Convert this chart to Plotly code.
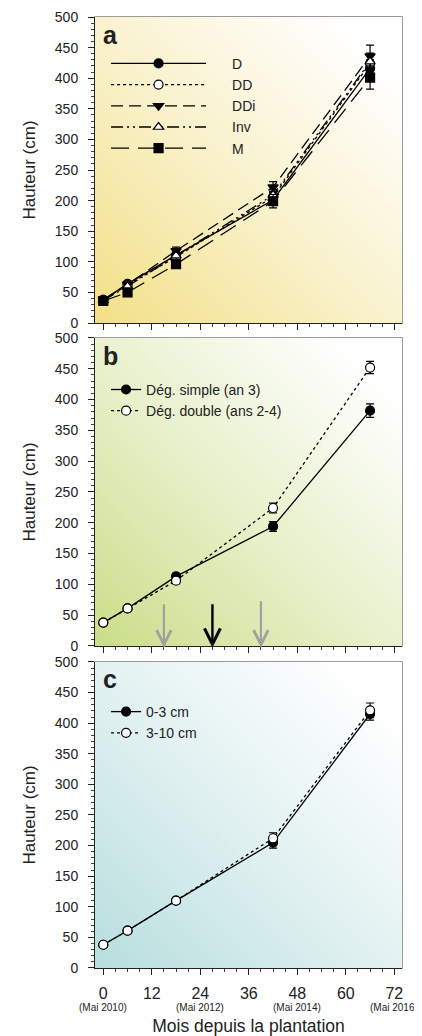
import base64
import plotly.graph_objects as go

# ---------------- data ----------------
months = [0, 6, 18, 42, 66]

# Panel a
a_names = ["D", "DD", "DDi", "Inv", "M"]
a_D = [38, 64, 111, 201, 416]
a_DD = [38, 62, 108, 206, 424]
a_DDi = [38, 63, 118, 222, 436]
a_Inv = [37, 60, 110, 209, 427]
a_M = [36, 50, 96, 199, 401]
a_D_err = [3, 4, 6, 9, 14]
a_DD_err = [3, 4, 6, 9, 14]
a_DDi_err = [3, 4, 6, 9, 18]
a_Inv_err = [3, 4, 6, 9, 14]
a_M_err = [3, 4, 6, 11, 19]

# Panel b
b_names = ["Dég. simple (an 3)", "Dég. double (ans 2-4)"]
b_simple = [38, 61, 113, 194, 382]
b_double = [38, 61, 106, 224, 452]
b_simple_err = [2, 3, 5, 8, 11]
b_double_err = [2, 3, 5, 8, 10]
# treatment arrows (months): gray, black, gray
arrow_x = [15, 27, 39]
arrow_top = [70, 70, 75]
arrow_colors = ["#a0a0a0", "#000000", "#a0a0a0"]

# Panel c
c_names = ["0-3 cm", "3-10 cm"]
c_03 = [38, 61, 110, 205, 415]
c_310 = [38, 61, 110, 212, 421]
c_03_err = [2, 3, 4, 9, 10]
c_310_err = [2, 3, 4, 9, 12]

x_tickvals = [0, 12, 24, 36, 48, 60, 72]
x_ticktext = ["0", "12", "24", "36", "48", "60", "72"]
x_subtext = ["(Mai 2010)", "", "(Mai 2012)", "", "(Mai 2014)", "", "(Mai 2016)"]

FONT = "Liberation Sans, Arial, sans-serif"


def mix(c, t):
    r, g, b = int(c[1:3], 16), int(c[3:5], 16), int(c[5:7], 16)
    r, g, b = [round(v + (255 - v) * t) for v in (r, g, b)]
    return f"#{r:02x}{g:02x}{b:02x}"


def grad_uri(c0):
    svg = (
        "<svg xmlns='http://www.w3.org/2000/svg' width='100' height='100' preserveAspectRatio='none'>"
        "<defs><linearGradient id='g' x1='0' y1='1' x2='1' y2='0'>"
        f"<stop offset='0' stop-color='{c0}'/>"
        f"<stop offset='0.45' stop-color='{mix(c0, 0.55)}'/>"
        "<stop offset='0.9' stop-color='#ffffff'/>"
        "</linearGradient></defs><rect width='100' height='100' fill='url(#g)'/></svg>"
    )
    return "data:image/svg+xml;base64," + base64.b64encode(svg.encode()).decode()


fig = go.Figure()

line_w = 1.3
err_base = dict(type="data", color="black", thickness=1.2, width=4, visible=True)


def add(x, y, err, name, dash, symbol, fill, xa, ya, legend):
    fig.add_trace(go.Scatter(
        x=x, y=y, name=name, mode="lines+markers",
        line=dict(color="black", width=line_w, dash=dash),
        marker=dict(symbol=symbol, size=9, color=fill, line=dict(color="black", width=1.2)),
        error_y=dict(err_base, array=err),
        xaxis=xa, yaxis=ya, legend=legend,
    ))


pad = "\u2002\u2002\u2002"
# panel a (top)
add(months, a_D, a_D_err, pad + a_names[0], "solid", "circle", "black", "x", "y", "legend")
add(months, a_DD, a_DD_err, pad + a_names[1], "dot", "circle", "white", "x", "y", "legend")
add(months, a_DDi, a_DDi_err, pad + a_names[2], "12px,6px", "triangle-down", "black", "x", "y", "legend")
add(months, a_Inv, a_Inv_err, pad + a_names[3], "12px,4px,2px,4px,2px,4px", "triangle-up", "white", "x", "y", "legend")
add(months, a_M, a_M_err, pad + a_names[4], "18px,9px", "square", "black", "x", "y", "legend")

# panel b (middle)
add(months, b_simple, b_simple_err, b_names[0], "solid", "circle", "black", "x2", "y2", "legend2")
add(months, b_double, b_double_err, b_names[1], "dot", "circle", "white", "x2", "y2", "legend2")

# panel c (bottom)
add(months, c_03, c_03_err, c_names[0], "solid", "circle", "black", "x3", "y3", "legend3")
add(months, c_310, c_310_err, c_names[1], "dot", "circle", "white", "x3", "y3", "legend3")

# arrows in panel b
for xv, top, col in zip(arrow_x, arrow_top, arrow_colors):
    fig.add_annotation(
        x=xv, y=-3, ax=xv, ay=top, xref="x2", yref="y2", axref="x2", ayref="y2",
        text="", showarrow=True, arrowhead=5, arrowsize=1.3, arrowwidth=2.4 if col == "#000000" else 2.2,
        arrowcolor=col,
    )

# date sub-labels under the x ticks of panel c
for xv, s in zip(x_tickvals, x_subtext):
    if s:
        fig.add_annotation(x=xv, y=-0.128, xref="x3", yref="y3 domain", text=s, showarrow=False,
                           font=dict(size=10, color="#222"), xanchor="center", yanchor="middle")

# domains (paper fractions of the plot area)
doms = [[0.6782, 1.0], [0.3386, 0.6625], [0.0, 0.3218]]
grads = ["#f2e086", "#cadd88", "#b7dede"]
labels = ["a", "b", "c"]
axes_ids = [("x", "y"), ("x2", "y2"), ("x3", "y3")]

# page body has an 8px margin: compensate so the plot areas land where the reference has them
layout = dict(
    width=414, height=1028,
    margin=dict(l=87, r=20, t=9, b=68),
    paper_bgcolor="white", plot_bgcolor="rgba(0,0,0,0)",
    font=dict(family=FONT, size=14, color="#222"),
    showlegend=True,
)

for i, ((xa, ya), dom) in enumerate(zip(axes_ids, doms)):
    xkey = "xaxis" if i == 0 else f"xaxis{i+1}"
    ykey = "yaxis" if i == 0 else f"yaxis{i+1}"
    last = i == 2
    layout[xkey] = dict(
        domain=[0, 1], anchor=ya, range=[-2.05, 73.9], automargin=False,
        tickvals=x_tickvals, ticktext=x_ticktext, showticklabels=last,
        ticks="outside", ticklen=6, tickwidth=1, tickcolor="#222",
        minor=dict(dtick=3, tick0=0, ticks="outside", ticklen=3, tickcolor="#444", tickwidth=1),
        showline=True, linecolor="#222", linewidth=1, showgrid=False, zeroline=False,
        tickfont=dict(size=16), ticklabelstandoff=5,
        title=dict(text="Mois depuis la plantation", font=dict(size=17.5), standoff=22) if last else None,
    )
    layout[ykey] = dict(
        domain=dom, anchor=xa, range=[0, 500], automargin=False,
        tickvals=list(range(0, 501, 50)),
        ticks="outside", ticklen=6, tickwidth=1, tickcolor="#222",
        minor=dict(dtick=10, tick0=0, ticks="outside", ticklen=3, tickcolor="#444", tickwidth=1),
        showline=True, linecolor="#222", linewidth=1, showgrid=False, zeroline=False,
        ticklabelstandoff=7, tickfont=dict(size=14),
        title=dict(text="Hauteur (cm)", font=dict(size=17), standoff=14),
    )

fig.update_layout(**layout)

for i, (xa, ya) in enumerate(axes_ids):
    fig.add_layout_image(dict(
        source=grad_uri(grads[i]), xref=f"{xa} domain", yref=f"{ya} domain",
        x=0, y=1, sizex=1, sizey=1, sizing="stretch", xanchor="left", yanchor="top",
        layer="below",
    ))
    fig.add_shape(type="rect", xref=f"{xa} domain", yref=f"{ya} domain",
                  x0=0, x1=1, y0=0, y1=1, line=dict(color="#7a7a7a", width=1.5), layer="below")
    fig.add_annotation(text=f"<b>{labels[i]}</b>", xref=f"{xa} domain", yref=f"{ya} domain",
                       x=0.02, y=0.995, xanchor="left", yanchor="top", showarrow=False,
                       font=dict(size=25, color="#222"))

leg_common = dict(bgcolor="rgba(0,0,0,0)", borderwidth=0, font=dict(size=14, color="#222"),
                  xanchor="left", yanchor="top", tracegroupgap=0)
fig.update_layout(
    legend=dict(leg_common, x=0.036, y=0.9676, itemwidth=95),
    legend2=dict(leg_common, x=0.036, y=0.6247),
    legend3=dict(leg_common, x=0.036, y=0.286),
)

fig.write_html("out.html")
